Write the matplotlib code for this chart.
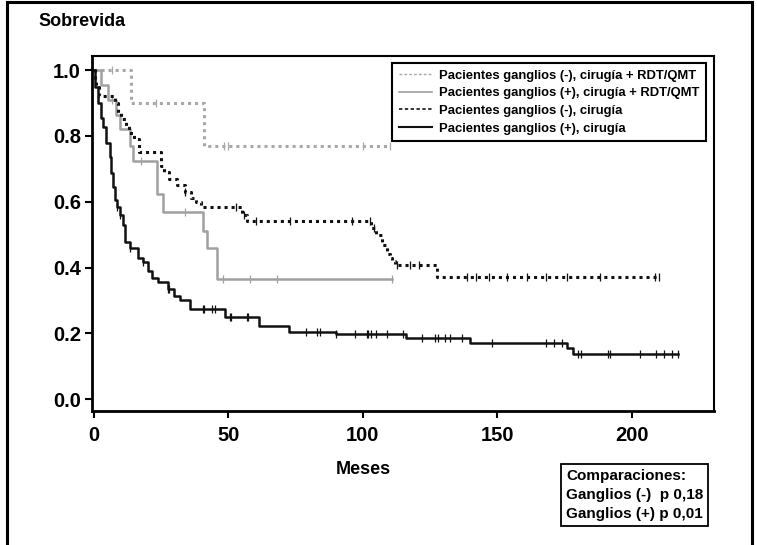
import numpy as np
import matplotlib
matplotlib.use('Agg')
import matplotlib.pyplot as plt
from matplotlib.lines import Line2D

plt.rcParams['font.family'] = ['Liberation Sans', 'DejaVu Sans']
plt.rcParams['font.weight'] = 'bold'

# Kaplan-Meier steps: (months, survival)
neg_rdt_t = [0, 14, 41]
neg_rdt_s = [1.0, 0.90, 0.77]
neg_rdt_end = 110
neg_rdt_cens = [7, 23, 48.5, 50, 100, 110]

pos_rdt_t = [0, 2.9, 5.2, 8.4, 9.7, 13.4, 14.6, 23.4, 25.6, 40.5, 42, 45.8]
pos_rdt_s = [1.0, 0.955, 0.91, 0.865, 0.82, 0.77, 0.725, 0.625, 0.57, 0.51, 0.46, 0.365]
pos_rdt_end = 111
pos_rdt_cens = [6.7, 17.5, 34, 48, 58, 68, 111]

neg_cir_t = [0, 0.5, 1, 2, 8, 9, 10, 12, 13, 15, 17, 25, 26, 28, 31, 34, 36, 38, 40,
             55, 57, 103, 105, 107, 109, 110, 111, 112, 127.5]
neg_cir_s = [1.0, 0.97, 0.95, 0.92, 0.90, 0.87, 0.85, 0.83, 0.81, 0.79, 0.75, 0.71, 0.69,
             0.67, 0.65, 0.63, 0.61, 0.60, 0.585, 0.56, 0.54, 0.52, 0.50, 0.47, 0.44,
             0.43, 0.42, 0.407, 0.37]
neg_cir_end = 210
neg_cir_cens = [34, 53, 56, 60.5, 73, 96, 102.6, 104, 112.6, 117.5, 121, 138.6, 142, 147,
                153.5, 161, 168, 176, 188, 208.5, 210]

pos_cir_t = [0, 0.4, 1.5, 2.8, 3.4, 4.7, 6.0, 6.6, 7.2, 7.8, 8.6, 9.7, 10.8, 11.5, 13.4,
             16.4, 18.2, 20.1, 21.6, 23.8, 27.5, 30, 32, 35.7, 49, 61.5, 72.5, 90, 116,
             140, 176, 178]
pos_cir_s = [1.0, 0.95, 0.90, 0.854, 0.827, 0.78, 0.735, 0.687, 0.645, 0.605, 0.584, 0.56,
             0.53, 0.478, 0.459, 0.43, 0.417, 0.39, 0.367, 0.356, 0.334, 0.315, 0.30, 0.273,
             0.249, 0.222, 0.204, 0.197, 0.185, 0.17, 0.155, 0.137]
pos_cir_end = 217
pos_cir_cens = [8.6, 9.7, 13.4, 18.2, 27.5, 28, 40.5, 41, 44, 45, 50.5, 51, 57, 57.3, 79,
                83, 84, 90, 97, 101.5, 102, 103, 105, 109, 115, 122, 127, 128, 130.5, 132.5,
                137, 148, 168, 171, 174, 180, 181, 191, 192, 203, 209, 212, 215, 217]

labels = ['Pacientes ganglios (-), cirugía + RDT/QMT',
          'Pacientes ganglios (+), cirugía + RDT/QMT',
          'Pacientes ganglios (-), cirugía',
          'Pacientes ganglios (+), cirugía']


def km(ax, t, s, end, cens, color, ls, lw, label):
    tt = list(t) + [end]
    ss = list(s) + [s[-1]]
    ax.step(tt, ss, where='post', color=color, linestyle=ls, linewidth=lw,
            dash_capstyle='butt', label=label)
    idx = np.searchsorted(t, cens, side='right') - 1
    ax.plot(cens, np.array(s)[idx], linestyle='none', marker='|', markersize=6,
            markeredgewidth=0.9, color=color)


fig = plt.figure(figsize=(7.57, 5.45), dpi=100)
ax = fig.add_axes([92 / 757, 1 - 411 / 545, 622 / 757, 355 / 545])

dot = (0, (1, 1.3))
km(ax, neg_rdt_t, neg_rdt_s, neg_rdt_end, neg_rdt_cens, '#a8a8a8', dot, 2.2, labels[0])
km(ax, pos_rdt_t, pos_rdt_s, pos_rdt_end, pos_rdt_cens, '#a0a0a0', '-', 1.8, labels[1])
km(ax, neg_cir_t, neg_cir_s, neg_cir_end, neg_cir_cens, '#111111', dot, 2.2, labels[2])
km(ax, pos_cir_t, pos_cir_s, pos_cir_end, pos_cir_cens, '#111111', '-', 1.8, labels[3])

ax.set_xlim(-0.6, 230.5)
ax.set_ylim(-0.036, 1.043)
ax.set_xticks([0, 50, 100, 150, 200])
ax.set_yticks([0.0, 0.2, 0.4, 0.6, 0.8, 1.0])
ax.set_yticklabels(['%.1f' % v for v in [0.0, 0.2, 0.4, 0.6, 0.8, 1.0]])
ax.tick_params(direction='out', length=5, width=1.5, labelsize=14.5, pad=3)
ax.tick_params(axis='x', pad=6)
for lab in ax.get_xticklabels() + ax.get_yticklabels():
    lab.set_fontweight('bold')
for side in ['left', 'bottom']:
    ax.spines[side].set_linewidth(2.0)
for side in ['top', 'right']:
    ax.spines[side].set_linewidth(1.5)

handles = [Line2D([], [], color='#a8a8a8', linestyle=(0, (2, 1.5)), linewidth=1.0),
           Line2D([], [], color='#a0a0a0', linestyle='-', linewidth=1.2),
           Line2D([], [], color='#111111', linestyle=(0, (2, 1.5)), linewidth=1.2),
           Line2D([], [], color='#111111', linestyle='-', linewidth=1.5)]
leg = ax.legend(handles, labels, loc='upper right', bbox_to_anchor=(0.987, 0.980),
                borderaxespad=0, fancybox=False, edgecolor='black', framealpha=1,
                prop={'size': 9.4, 'weight': 'bold'}, handlelength=2.6,
                handletextpad=0.5, labelspacing=0.42, borderpad=0.5)
leg.get_frame().set_linewidth(1.5)

fig.text(38 / 757, 1 - 22 / 545, 'Sobrevida', fontsize=13, fontweight='bold',
         ha='left', va='center')
fig.text(363 / 757, 1 - 470 / 545, 'Meses', fontsize=13, fontweight='bold',
         ha='center', va='center')
fig.text(566 / 757, 1 - 495 / 545,
         'Comparaciones:\nGanglios (-)  p 0,18\nGanglios (+) p 0,01',
         fontsize=11, fontweight='bold', ha='left', va='center', linespacing=1.45,
         bbox=dict(boxstyle='square,pad=0.3', fc='white', ec='black', lw=1.3))

# outer frame (left, top, right)
for xs, ys in [([7 / 757, 7 / 757], [0, 1 - 2 / 545]),
               ([7 / 757, 752 / 757], [1 - 2 / 545, 1 - 2 / 545]),
               ([752 / 757, 752 / 757], [0, 1 - 2 / 545])]:
    fig.add_artist(Line2D(xs, ys, color='black', linewidth=2.2))

fig.savefig('out.png', dpi=100)
